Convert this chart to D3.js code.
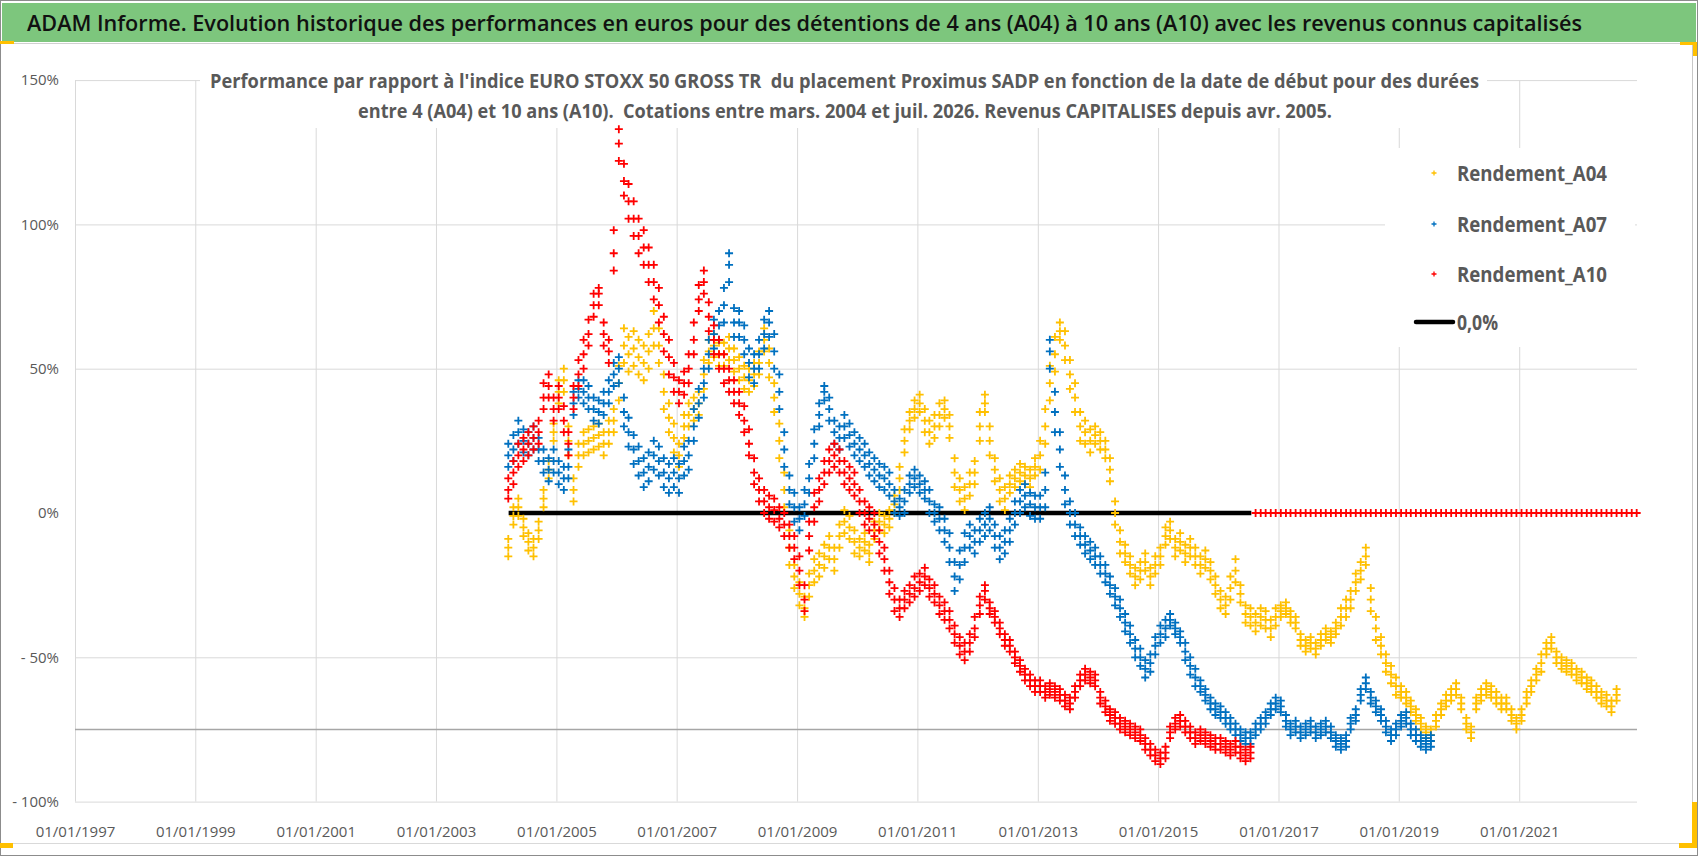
<!DOCTYPE html>
<html>
<head>
<meta charset="utf-8">
<script src="https://cdn.jsdelivr.net/npm/d3@7"></script>
<style>
  body { margin: 0; background: #fff; }
  svg { display: block; font-family: "Open Sans", "Noto Sans", sans-serif; }
</style>
</head>
<body>
<svg id="chart" width="1698" height="856"></svg>
<script>
// texts
var titleText = "ADAM Informe. Evolution historique des performances en euros pour des détentions de 4 ans (A04) à 10 ans (A10) avec les revenus connus capitalisés";
var subtitleLines = [
    "Performance par rapport à l'indice EURO STOXX 50 GROSS TR  du placement Proximus SADP en fonction de la date de début pour des durées",
    "entre 4 (A04) et 10 ans (A10).  Cotations entre mars. 2004 et juil. 2026. Revenus CAPITALISES depuis avr. 2005."
];

// series: monthly values in %, first month = 2004-03.
// xxxValues = centre of the cloud, xxxHigh / xxxLow = upper and lower edge of the cloud
var seriesNames = ["Rendement_A04", "Rendement_A07", "Rendement_A10"];
var seriesColors = ["#FFC000", "#0070C0", "#FF0000"];
var seriesStart = [2004, 3];

var a04Values = [
    -12, -1, 2, -5, -10, -12, -6, 5, 15, 28,
    42, 46, 25, 8, 20, 24, 25, 26, 27, 24, 28, 32,
    45, 58, 55, 57, 54, 52, 56, 64, 58, 42, 33, 26,
    20, 30, 34, 36, 38, 48, 56, 58, 55, 55, 57, 53,
    50, 47, 46, 48, 52, 60, 52, 40, 25, 8, -12, -22,
    -28, -33, -25, -20, -18, -15, -12, -16, -8, -3, -5, -10,
    -12, -10, -14, -6, -3, -4, -2, 3, 12, 25, 32, 36,
    38, 32, 28, 30, 34, 36, 30, 14, 8, 5, 10, 14,
    30, 38, 25, 15, 8, 5, 10, 12, 14, 13, 12, 16,
    20, 30, 45, 55, 63, 58, 48, 40, 30, 28, 25, 27,
    25, 22, 15, 0, -10, -14, -18, -22, -20, -17, -22, -18,
    -15, -8, -6, -12, -10, -14, -12, -15, -18, -16, -20, -25,
    -30, -32, -26, -20, -28, -35, -36, -38, -36, -37, -40, -36,
    -34, -33, -36, -38, -44, -46, -45, -47, -44, -42, -43, -40,
    -36, -33, -30, -24, -20, -15, -30, -40, -46, -52, -56, -60,
    -62, -64, -67, -70, -73, -76, -77, -72, -68, -65, -63, -61,
    -66, -73, -76, -66, -63, -61, -62, -64, -66, -66, -70, -73,
    -70, -64, -60, -56, -52, -47, -45, -50, -52, -53, -54, -56,
    -57, -59, -60, -62, -64, -65, -67, -63
];
var a04High = [
    -9, 2, 5, -2, -7, -9, -3, 8, 18, 31,
    46, 50, 30, 12, 24, 28, 29, 30, 31, 28, 32, 36,
    51, 64, 61, 63, 60, 58, 62, 70, 64, 48, 38, 31,
    24, 34, 38, 40, 42, 53, 60, 62, 59, 59, 61, 57,
    54, 51, 50, 52, 56, 64, 57, 45, 31, 14, -6, -18,
    -24, -29, -21, -16, -14, -11, -8, -12, -4, 1, -1, -6,
    -9, -7, -11, -3, 0, -1, 1, 6, 16, 29, 35, 39,
    41, 36, 32, 34, 38, 39, 34, 19, 12, 9, 14, 18,
    35, 41, 30, 19, 12, 9, 13, 15, 17, 16, 15, 19,
    25, 36, 51, 61, 66, 63, 53, 45, 35, 32, 29, 30,
    28, 25, 19, 4, -6, -11, -15, -19, -17, -14, -19, -15,
    -12, -5, -3, -9, -7, -11, -9, -12, -15, -13, -17, -22,
    -27, -29, -22, -16, -25, -32, -33, -35, -33, -34, -37, -33,
    -32, -31, -34, -36, -42, -44, -43, -45, -42, -40, -41, -38,
    -33, -30, -27, -21, -17, -12, -26, -36, -43, -49, -53, -57,
    -60, -62, -65, -68, -71, -74, -75, -70, -66, -63, -61, -59,
    -64, -71, -74, -64, -61, -59, -60, -62, -64, -64, -68, -71,
    -68, -62, -58, -54, -49, -45, -43, -48, -50, -51, -52, -54,
    -55, -57, -58, -60, -62, -63, -65, -61
];
var a04Low = [
    -15, -4, -1, -8, -13, -15, -9, 2, 12, 25,
    38, 42, 20, 4, 16, 20, 21, 22, 23, 20, 24, 28,
    39, 52, 49, 51, 48, 46, 50, 58, 52, 36, 28, 21,
    16, 26, 30, 32, 34, 43, 52, 54, 51, 51, 53, 49,
    46, 43, 42, 44, 48, 56, 47, 35, 19, 2, -18, -26,
    -32, -36, -29, -24, -22, -19, -16, -20, -12, -7, -9, -14,
    -15, -13, -17, -9, -6, -7, -5, 0, 8, 21, 29, 33,
    35, 28, 24, 26, 30, 33, 26, 9, 4, 1, 6, 10,
    25, 35, 20, 11, 4, 1, 7, 9, 11, 10, 9, 13,
    15, 24, 39, 49, 60, 53, 43, 35, 25, 24, 21, 24,
    22, 19, 11, -4, -14, -17, -21, -25, -23, -20, -25, -21,
    -18, -11, -9, -15, -13, -17, -15, -18, -21, -19, -23, -28,
    -33, -35, -30, -24, -31, -38, -39, -41, -39, -40, -43, -39,
    -36, -35, -38, -40, -46, -48, -47, -49, -46, -44, -45, -42,
    -39, -36, -33, -27, -23, -18, -34, -44, -49, -55, -59, -63,
    -64, -66, -69, -72, -75, -78, -79, -74, -70, -67, -65, -63,
    -68, -75, -78, -68, -65, -63, -64, -66, -68, -68, -72, -75,
    -72, -66, -62, -58, -55, -49, -47, -52, -54, -55, -56, -58,
    -59, -61, -62, -64, -66, -67, -69, -65
];

var a07Values = [
    20, 22, 28, 25, 24, 26, 22, 18, 15, 18,
    14, 12, 16, 38, 43, 42, 40, 36, 35, 38, 42, 48,
    50, 35, 28, 22, 18, 14, 16, 20, 18, 14, 12, 14,
    12, 18, 20, 30, 38, 45, 55, 62, 65, 72, 86, 66,
    66, 60, 52, 50, 55, 62, 66, 56, 42, 22, 8, 2,
    -2, 3, 12, 24, 34, 42, 36, 28, 26, 30, 27, 24,
    22, 20, 17, 15, 13, 12, 10, 4, 2, 4, 10, 12,
    10, 8, 4, 0, -2, -6, -12, -22, -18, -12, -8, -10,
    -6, -4, -2, -8, -12, -10, -6, 0, 4, 6, 3, 2,
    2, 8, 56, 35, 22, 8, 0, -4, -8, -11, -13, -15,
    -18, -21, -25, -29, -33, -38, -42, -47, -50, -54, -52, -46,
    -42, -40, -37, -40, -43, -48, -53, -57, -60, -63, -66, -68,
    -69, -71, -73, -75, -77, -78, -78, -75, -73, -71, -68, -66,
    -67, -72, -75, -74, -76, -75, -74, -76, -75, -74, -76, -79,
    -80, -79, -73, -70, -63, -59, -64, -67, -70, -74, -77, -75,
    -72, -71, -75, -77, -79, -80, -79
];
var a07High = [
    24, 27, 32, 29, 28, 30, 26, 22, 19, 22,
    18, 16, 22, 42, 46, 46, 44, 40, 39, 42, 46, 52,
    54, 40, 33, 27, 23, 19, 21, 25, 23, 19, 17, 19,
    17, 23, 25, 36, 43, 50, 60, 67, 70, 78, 90, 71,
    70, 65, 57, 55, 60, 67, 70, 62, 48, 28, 13, 7,
    2, 8, 17, 29, 38, 44, 40, 32, 30, 34, 31, 28,
    26, 24, 21, 19, 17, 16, 14, 8, 5, 8, 13, 15,
    13, 11, 8, 3, 2, -2, -7, -17, -13, -7, -4, -6,
    -2, 0, 2, -4, -8, -6, -2, 4, 8, 10, 7, 6,
    6, 14, 60, 42, 28, 13, 4, 0, -5, -8, -10, -12,
    -15, -18, -22, -26, -30, -35, -39, -44, -47, -51, -49, -43,
    -39, -37, -35, -38, -41, -45, -50, -54, -58, -61, -64, -66,
    -67, -69, -71, -73, -75, -76, -76, -73, -71, -69, -66, -64,
    -65, -70, -73, -72, -74, -73, -72, -74, -73, -72, -74, -77,
    -78, -77, -71, -68, -61, -57, -62, -65, -68, -72, -75, -73,
    -70, -69, -73, -75, -77, -78, -77
];
var a07Low = [
    16, 18, 24, 21, 20, 22, 18, 14, 11, 14,
    10, 8, 12, 34, 40, 38, 36, 32, 31, 34, 38, 44,
    45, 30, 23, 17, 13, 9, 11, 15, 13, 9, 7, 9,
    7, 13, 15, 25, 33, 40, 50, 57, 60, 66, 80, 61,
    61, 55, 47, 45, 50, 57, 61, 50, 36, 16, 3, -3,
    -6, -1, 7, 19, 30, 39, 32, 24, 22, 26, 23, 20,
    18, 16, 13, 11, 9, 8, 6, 0, -1, 0, 7, 9,
    7, 5, 0, -3, -6, -10, -17, -27, -23, -17, -12, -14,
    -10, -8, -6, -12, -16, -14, -10, -4, 0, 2, -1, -2,
    -2, 2, 50, 28, 16, 3, -4, -8, -11, -14, -16, -18,
    -21, -24, -28, -32, -36, -41, -45, -50, -53, -57, -55, -49,
    -45, -43, -39, -42, -45, -51, -56, -60, -62, -65, -68, -70,
    -71, -73, -75, -77, -79, -80, -80, -77, -75, -73, -70, -68,
    -69, -74, -77, -76, -78, -77, -76, -78, -77, -76, -78, -81,
    -82, -81, -75, -72, -65, -61, -66, -69, -72, -76, -79, -77,
    -74, -73, -77, -79, -81, -82, -81
];

// A10 stops in 2016-07, after that the sheet holds 0 for every start date
var a10Values = [
    8, 14, 20, 22, 24, 26, 28, 40, 44, 36,
    40, 32, 24, 40, 48, 55, 62, 72, 76, 62, 56, 90,
    128, 115, 108, 102, 96, 92, 86, 80, 72, 62, 54, 47,
    42, 45, 50, 60, 74, 80, 68, 60, 55, 50, 46, 42,
    38, 32, 24, 14, 8, 4, 2, 1, -2, -4, -8, -12,
    -20, -30, -8, 2, 8, 14, 18, 20, 18, 14, 12, 10,
    4, 0, -2, -4, -10, -16, -24, -30, -33, -30, -28, -26,
    -24, -22, -26, -28, -32, -34, -37, -42, -46, -48, -45, -40,
    -32, -27, -33, -36, -40, -44, -46, -50, -53, -56, -58, -60,
    -60, -62, -61, -62, -63, -65, -66, -62, -58, -56, -57, -58,
    -64, -67, -70, -71, -73, -74, -75, -76, -77, -80, -82, -84,
    -85, -83, -76, -73, -72, -74, -76, -78, -77, -78, -79, -80,
    -80, -81, -82, -81, -83, -84, -83, 0, 0, 0, 0, 0,
    0, 0, 0, 0, 0, 0, 0, 0, 0, 0, 0, 0,
    0, 0, 0, 0, 0, 0, 0, 0, 0, 0, 0, 0,
    0, 0, 0, 0, 0, 0, 0, 0, 0, 0, 0, 0,
    0, 0, 0, 0, 0, 0, 0, 0, 0, 0, 0, 0,
    0, 0, 0, 0, 0, 0, 0, 0, 0, 0, 0, 0,
    0, 0, 0, 0, 0, 0, 0, 0, 0, 0, 0, 0
];
var a10High = [
    12, 18, 24, 26, 28, 30, 32, 45, 48, 40,
    44, 37, 28, 44, 53, 60, 67, 76, 78, 66, 60, 98,
    133, 121, 114, 108, 102, 98, 92, 86, 78, 68, 60, 52,
    46, 49, 55, 66, 79, 84, 73, 65, 60, 55, 50, 46,
    42, 37, 29, 19, 12, 8, 6, 5, 2, 0, -4, -8,
    -15, -25, -3, 7, 12, 18, 22, 24, 22, 18, 16, 14,
    8, 4, 2, 0, -6, -12, -20, -26, -30, -27, -25, -22,
    -21, -19, -23, -25, -29, -31, -34, -39, -43, -45, -42, -36,
    -29, -25, -31, -34, -38, -42, -44, -48, -51, -54, -56, -58,
    -58, -60, -59, -60, -61, -63, -64, -60, -56, -54, -55, -56,
    -62, -65, -68, -69, -71, -72, -73, -74, -75, -78, -80, -82,
    -83, -81, -74, -71, -70, -72, -74, -76, -75, -76, -77, -78,
    -78, -79, -80, -79, -81, -82, -81
];
var a10Low = [
    5, 10, 16, 18, 20, 22, 24, 36, 40, 32,
    36, 28, 20, 36, 44, 50, 58, 68, 72, 58, 52, 84,
    122, 110, 102, 96, 90, 86, 80, 74, 66, 56, 48, 42,
    38, 41, 45, 55, 70, 76, 63, 55, 50, 45, 42, 38,
    34, 28, 20, 10, 4, 0, -2, -3, -5, -8, -12, -16,
    -25, -34, -13, -3, 4, 10, 14, 16, 14, 10, 8, 6,
    0, -4, -6, -8, -14, -20, -28, -34, -36, -33, -31, -29,
    -27, -25, -29, -31, -35, -37, -40, -45, -49, -51, -48, -43,
    -35, -30, -35, -38, -42, -46, -48, -52, -55, -58, -60, -62,
    -62, -64, -63, -64, -65, -67, -68, -64, -60, -58, -59, -60,
    -66, -69, -72, -73, -75, -76, -77, -78, -79, -82, -84, -86,
    -87, -85, -78, -75, -74, -76, -78, -80, -79, -80, -81, -82,
    -82, -83, -84, -83, -85, -86, -85
];

// the black "0,0%" line and the grey line at -75%
var zeroLineLabel = "0,0%";
var zeroLineDates = ["2004-03-17", "2016-07-20"];
var zeroLineValue = 0;
var refLineValue = -75;

// axes
var yTicks = [150, 100, 50, 0, -50, -100];
var yGridValues = [150, 100, 50, -50, -100];
var xTickDates = ["1997-01-01", "1999-01-01", "2001-01-01", "2003-01-01", "2005-01-01",
    "2007-01-01", "2009-01-01", "2011-01-01", "2013-01-01", "2015-01-01",
    "2017-01-01", "2019-01-01", "2021-01-01"];
var xDomain = ["1997-01-01", "2022-12-17"];

var parseDay = d3.timeParse("%Y-%m-%d");

function toPoints(values)
{
    return values.map(function(v, i)
    {
        return { date: new Date(seriesStart[0], seriesStart[1] - 1 + i, 15), value: v };
    });
}

var allSeries = [
    [a04Values, a04High, a04Low],
    [a07Values, a07High, a07Low],
    [a10Values, a10High, a10Low]
].map(function(arrs, i)
{
    return {
        name: seriesNames[i],
        color: seriesColors[i],
        points: toPoints(arrs[2]).concat(toPoints(arrs[0]), toPoints(arrs[1]))
    };
});

var svg = d3.select("#chart");
var W = 1698, H = 856;

// frame, title bar, Excel selection marks
svg.append("rect").attr("x", 0.5).attr("y", 0.5).attr("width", W - 1).attr("height", H - 1)
    .attr("fill", "#fff").attr("stroke", "#8c8c8c");
svg.append("rect").attr("x", 2).attr("y", 3).attr("width", W - 4).attr("height", 39)
    .attr("fill", "#7dc67d");
svg.append("line").attr("x1", 1).attr("x2", W - 1).attr("y1", 43.5).attr("y2", 43.5)
    .attr("stroke", "#d0d0d0");
svg.append("line").attr("x1", 1).attr("x2", W - 6).attr("y1", 843.5).attr("y2", 843.5)
    .attr("stroke", "#d9d9d9");
svg.append("line").attr("x1", 1692.5).attr("x2", 1692.5).attr("y1", 44).attr("y2", 843)
    .attr("stroke", "#c8c8c8");

var handles = [[0, 41, 14, 3], [1680, 42, 17, 3], [1693, 42, 4, 14],
    [1692, 802, 5, 46], [1679, 843, 18, 5], [0, 843, 13, 5]];
svg.selectAll(".handle").data(handles).enter().append("rect")
    .attr("x", function(d) { return d[0]; })
    .attr("y", function(d) { return d[1]; })
    .attr("width", function(d) { return d[2]; })
    .attr("height", function(d) { return d[3]; })
    .attr("fill", "#FFC000");

svg.append("text").attr("x", 27).attr("y", 31)
    .attr("font-size", 21.5).attr("font-weight", 600).attr("fill", "#111")
    .attr("textLength", 1555).attr("lengthAdjust", "spacingAndGlyphs")
    .text(titleText);

// scales
var xScale = d3.scaleTime()
    .domain(xDomain.map(parseDay))
    .range([75, 1637]);

var yScale = d3.scaleLinear()
    .domain([-100, 150])
    .range([801.6, 80.1]);

// gridlines and date labels
var xGrid = d3.axisBottom(xScale)
    .tickValues(xTickDates.map(parseDay))
    .tickSize(-(yScale(-100) - yScale(150)))
    .tickFormat(d3.timeFormat("%d/%m/%Y"));

var gx = svg.append("g")
    .attr("transform", "translate(0," + yScale(-100) + ")")
    .call(xGrid);
gx.select(".domain").remove();
gx.selectAll("line").attr("stroke", "#d9d9d9");
gx.selectAll("text")
    .attr("y", 25)
    .attr("font-size", 15)
    .attr("font-family", "Open Sans")
    .attr("fill", "#595959");

svg.append("g").selectAll("line").data(yGridValues).enter().append("line")
    .attr("x1", xScale.range()[0]).attr("x2", xScale.range()[1])
    .attr("y1", function(d) { return yScale(d) + 0.5; })
    .attr("y2", function(d) { return yScale(d) + 0.5; })
    .attr("stroke", "#d9d9d9");

svg.append("line")
    .attr("x1", xScale.range()[0]).attr("x2", xScale.range()[1])
    .attr("y1", yScale(refLineValue)).attr("y2", yScale(refLineValue))
    .attr("stroke", "#a6a6a6").attr("stroke-width", 1.5);

var yAxis = d3.axisLeft(yScale)
    .tickValues(yTicks)
    .tickSize(0)
    .tickFormat(function(d) { return d < 0 ? "- " + Math.abs(d) + "%" : d + "%"; });

var gy = svg.append("g")
    .attr("transform", "translate(62,0)")
    .call(yAxis);
gy.select(".domain").remove();
gy.selectAll("text")
    .attr("x", -3)
    .attr("font-size", 15)
    .attr("font-family", "Open Sans")
    .attr("fill", "#595959")
    .style("white-space", "pre");

// chart subtitle sits on a white box over the gridlines
svg.append("rect").attr("x", 200).attr("y", 66).attr("width", 1287).attr("height", 62)
    .attr("fill", "#fff");
var subX = [210, 358], subY = [88, 118], subLen = [1269, 974];
svg.selectAll(".subtitle").data(subtitleLines).enter().append("text")
    .attr("class", "subtitle")
    .attr("x", function(d, i) { return subX[i]; })
    .attr("y", function(d, i) { return subY[i]; })
    .attr("font-size", 20).attr("font-weight", "bold").attr("fill", "#595959")
    .attr("textLength", function(d, i) { return subLen[i]; })
    .attr("lengthAdjust", "spacingAndGlyphs")
    .style("white-space", "pre")
    .text(function(d) { return d; });

// black 0% line
var zeroLine = d3.line()
    .x(function(d) { return xScale(d); })
    .y(function() { return yScale(zeroLineValue); });

svg.append("path")
    .datum(zeroLineDates.map(parseDay))
    .attr("d", zeroLine)
    .attr("stroke", "#000").attr("stroke-width", 4.5).attr("fill", "none");

// scatter series drawn with "+" markers
var plus = "M-4,0H4M0,-4V4";
allSeries.forEach(function(s)
{
    svg.append("g").selectAll("path").data(s.points).enter().append("path")
        .attr("d", plus)
        .attr("transform", function(d) { return "translate(" + xScale(d.date) + "," + yScale(d.value) + ")"; })
        .attr("stroke", s.color)
        .attr("stroke-width", 1.8)
        .attr("fill", "none");
});

// legend
var legend = svg.append("g");
legend.append("rect").attr("x", 1385).attr("y", 148).attr("width", 250).attr("height", 199)
    .attr("fill", "#fff");
var rowY = [173, 224, 274, 322];
var legendItems = seriesNames.concat([zeroLineLabel]);

legend.selectAll(".lmark").data(seriesColors).enter().append("path")
    .attr("d", "M-2.5,0H2.5M0,-2.5V2.5")
    .attr("transform", function(d, i) { return "translate(1434," + rowY[i] + ")"; })
    .attr("stroke", function(d) { return d; })
    .attr("stroke-width", 1.3);

legend.append("line").attr("x1", 1416).attr("x2", 1453)
    .attr("y1", rowY[3]).attr("y2", rowY[3])
    .attr("stroke", "#000").attr("stroke-width", 4.5).attr("stroke-linecap", "round");

legend.selectAll(".ltext").data(legendItems).enter().append("text")
    .attr("x", 1457)
    .attr("y", function(d, i) { return rowY[i] + 8; })
    .attr("font-size", 21).attr("font-weight", "bold").attr("fill", "#595959")
    .attr("textLength", function(d, i) { return i < 3 ? 150 : 41; })
    .attr("lengthAdjust", "spacingAndGlyphs")
    .text(function(d) { return d; });
</script>
</body>
</html>
